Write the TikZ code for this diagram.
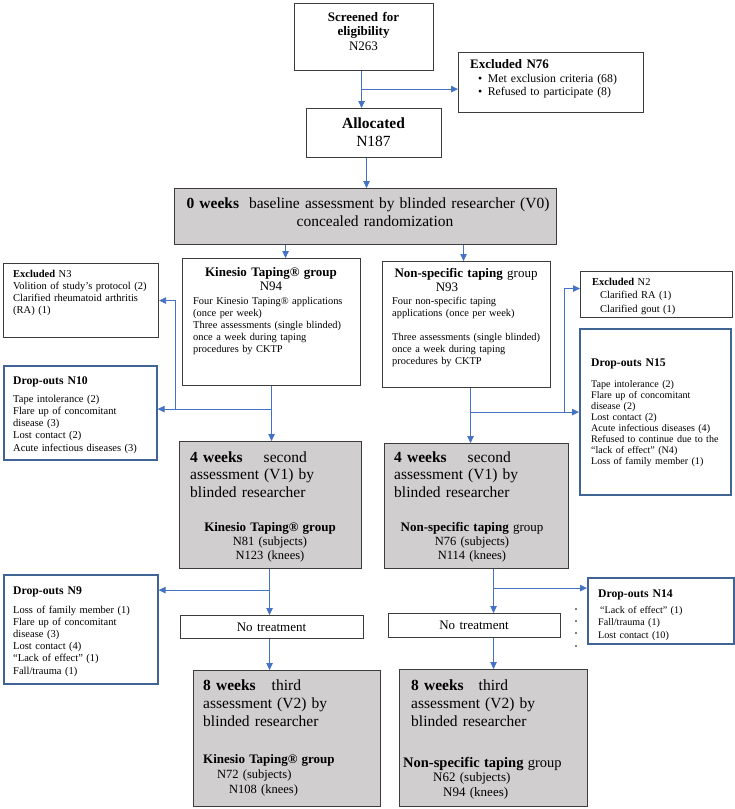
\documentclass[tikz,border=0pt]{standalone}
\usepackage{fontspec}
\setmainfont{Liberation Serif}
\usetikzlibrary{arrows.meta,calc}
\definecolor{ablue}{RGB}{68,114,196}
\definecolor{dblue}{RGB}{65,100,150}
\definecolor{bgray}{RGB}{208,206,206}
\definecolor{bline}{RGB}{60,60,60}
\newcommand\fsz[2]{\fontsize{#1}{#2}\selectfont}
\begin{document}
\begin{tikzpicture}[x=1pt,y=-1pt,
  bx/.style={draw=bline, line width=1.1pt, inner sep=0pt, anchor=north west},
  gbx/.style={bx, fill=bgray},
  dbx/.style={draw=dblue, line width=1.6pt, inner sep=0pt, anchor=north west},
  txl/.style={inner sep=0pt, anchor=base west, align=left, text width=#1},
  txc/.style={inner sep=0pt, anchor=base, align=center, text width=#1},
  ln/.style={draw=ablue, line width=0.8pt},
  arr/.style={ln, -{Triangle[length=7pt,width=6.5pt]}}
]
\useasboundingbox (0,0) rectangle (735,809);

% ---------- boxes ----------
\node[bx, minimum width=139pt, minimum height=67pt] (scr) at (294,3) {};
\node[bx, minimum width=185pt, minimum height=60pt] (ex1) at (458,52) {};
\node[bx, minimum width=135pt, minimum height=49pt] (alloc) at (306,108) {};
\node[gbx, minimum width=382pt, minimum height=56pt] (w0) at (174,188) {};
\node[bx, minimum width=178pt, minimum height=127pt] (kt) at (182,258) {};
\node[bx, minimum width=168pt, minimum height=126pt] (ns) at (382,261) {};
\node[bx, minimum width=155pt, minimum height=74pt] (ex3) at (3,263) {};
\node[dbx, minimum width=153pt, minimum height=94pt] (do10) at (3,365) {};
\node[bx, minimum width=152pt, minimum height=46pt] (ex2) at (580,271) {};
\node[dbx, minimum width=151pt, minimum height=166pt] (do15) at (579,328) {};
\node[gbx, minimum width=182pt, minimum height=127pt] (w4L) at (179,441) {};
\node[gbx, minimum width=184pt, minimum height=125pt] (w4R) at (384,443) {};
\node[dbx, minimum width=154pt, minimum height=109pt] (do9) at (3,574) {};
\node[bx, minimum width=183pt, minimum height=23pt] (ntL) at (180,615) {};
\node[bx, minimum width=172pt, minimum height=24pt] (ntR) at (388,613) {};
\node[dbx, minimum width=146pt, minimum height=66pt] (do14) at (587,577) {};
\node[gbx, minimum width=187pt, minimum height=136pt] (w8L) at (193,670) {};
\node[gbx, minimum width=188pt, minimum height=137pt] (w8R) at (399,669) {};

% ---------- texts ----------
\node[txc=130, font=\fsz{13}{14.5}] (scrT) at (363.5,21) {\textbf{Screened for}\\\textbf{eligibility}\\N263};
\node[txl=175, font=\fsz{13}{14}\bfseries] (ex1T) at (470,68) {Excluded N76};
\node[txl=170, font=\fsz{11.8}{13.5}] (ex1B) at (478,82) {•\hspace{5.5pt}Met exclusion criteria (68)\\•\hspace{5.5pt}Refused to participate (8)};
\node[txc=125, font=\fsz{15.5}{18.5}] (allocT) at (373.5,128) {\textbf{Allocated}\\N187};
\node[txc=400, font=\fsz{15.5}{18}] (w0T) at (368,208) {\textbf{0 weeks}\hspace{10pt}baseline assessment by blinded researcher (V0)\\\hspace*{14pt}concealed randomization};

\node[txc=170, font=\fsz{13}{14}] (ktT) at (271,276) {\textbf{Kinesio Taping® group}\\N94};
\node[txl=170, font=\fsz{10.4}{12}] (ktB) at (193,304) {Four Kinesio Taping® applications\\(once per week)\\Three assessments (single blinded)\\once a week during taping\\procedures by CKTP};

\node[txc=165, font=\fsz{13}{14}] (nsT) at (466,277) {\textbf{Non-specific taping} group\\\hspace*{-38pt}N93};
\node[txl=160, font=\fsz{10.4}{12}] (nsB) at (392,304) {Four non-specific taping\\applications (once per week)\\[12pt]Three assessments (single blinded)\\once a week during taping\\procedures by CKTP};

\node[txl=150, font=\fsz{10.5}{12}] (ex3T) at (13,277) {\textbf{Excluded} N3\\Volition of study’s protocol (2)\\Clarified rheumatoid arthritis\\(RA) (1)};

\node[txl=140, font=\fsz{11.7}{12}\bfseries] (do10T) at (13,384) {Drop-outs N10};
\node[txl=140, font=\fsz{10.5}{12.3}] (do10B) at (13,402) {Tape intolerance (2)\\Flare up of concomitant\\disease (3)\\Lost contact (2)\\Acute infectious diseases (3)};

\node[txl=140, font=\fsz{10.5}{13.5}] (ex2T) at (592,285) {\textbf{Excluded} N2\\\hspace*{8pt}Clarified RA (1)\\\hspace*{8pt}Clarified gout (1)};

\node[txl=140, font=\fsz{11.7}{12}\bfseries] (do15T) at (591,366) {Drop-outs N15};
\node[txl=140, font=\fsz{10.1}{11.1}] (do15B) at (591,387) {Tape intolerance (2)\\Flare up of concomitant\\disease (2)\\Lost contact (2)\\Acute infectious diseases (4)\\Refused to continue due to the\\“lack of effect” (N4)\\Loss of family member (1)};

\node[txl=175, font=\fsz{15.5}{17.5}] (w4LT) at (190,462) {\textbf{4 weeks}\hspace{21pt}second\\assessment (V1) by\\blinded researcher};
\node[txc=175, font=\fsz{12.5}{14}] (w4LB) at (270,531) {\textbf{\fontsize{13}{14}\selectfont Kinesio Taping® group}\\N81 (subjects)\\N123 (knees)};

\node[txl=175, font=\fsz{15.5}{17.5}] (w4RT) at (394,462) {\textbf{4 weeks}\hspace{21pt}second\\assessment (V1) by\\blinded researcher};
\node[txc=180, font=\fsz{12.5}{14}] (w4RB) at (472,531) {\textbf{\fontsize{13}{14}\selectfont Non-specific taping} {\fontsize{13}{14}\selectfont group}\\N76 (subjects)\\N114 (knees)};

\node[txl=140, font=\fsz{11.7}{12}\bfseries] (do9T) at (13,594) {Drop-outs N9};
\node[txl=140, font=\fsz{10.5}{12.2}] (do9B) at (13,613) {Loss of family member (1)\\Flare up of concomitant\\disease (3)\\Lost contact (4)\\“Lack of effect” (1)\\Fall/trauma (1)};

\node[txc=170, font=\fsz{13}{15}] (ntLT) at (271.5,631) {No treatment};
\node[txc=165, font=\fsz{13}{15}] (ntRT) at (474,629) {No treatment};

\node[txl=130, font=\fsz{11.7}{12}\bfseries] (do14T) at (598,597) {Drop-outs N14};
\node[txl=130, font=\fsz{10.1}{12.5}] (do14B) at (598,613) {\hspace*{2pt}“Lack of effect” (1)\\Fall/trauma (1)\\Lost contact (10)};

\node[txl=180, font=\fsz{15.5}{18}] (w8LT) at (203,690) {\textbf{8 weeks}\hspace{16pt}third\\assessment (V2) by\\blinded researcher};
\node[txl=180, font=\fsz{12.5}{15}] (w8LB) at (203,763) {\textbf{\fontsize{13}{15}\selectfont Kinesio Taping® group}\\\hspace*{14pt}N72 (subjects)\\\hspace*{26pt}N108 (knees)};

\node[txl=180, font=\fsz{15.5}{18}] (w8RT) at (411,690) {\textbf{8 weeks}\hspace{15pt}third\\assessment (V2) by\\blinded researcher};
\node[txl=185, font=\fsz{13}{14.5}] (w8RB) at (403,767) {\textbf{\fontsize{14.5}{14.5}\selectfont Non-specific taping} {\fontsize{14.5}{14.5}\selectfont group}\\\hspace*{30pt}N62 (subjects)\\\hspace*{40pt}N94 (knees)};

% ---------- connectors ----------
\draw[arr] ([xshift=-2.5pt]scr.south) -- ([xshift=-2.5pt]scr.south |- alloc.north);
\path ([xshift=-2.5pt]scr.south) ++(0,18) coordinate (b1);
\draw[arr] (b1) -- (b1 -| ex1.west);
\draw[arr] ([xshift=-7.5pt]alloc.south) -- ([xshift=-7.5pt]alloc.south |- w0.north);
\draw[arr] ([xshift=14pt]kt.north |- w0.south) -- ([xshift=14pt]kt.north);
\draw[arr] ([xshift=-3pt]ns.north |- w0.south) -- ([xshift=-3pt]ns.north);

\draw[arr] (kt.south) -- (kt.south |- w4L.north);
\path (kt.south) ++(0,23) coordinate (k1);
\draw[arr] (k1) -- (k1 -| do10.east);
\draw[arr] ([xshift=18pt]k1 -| do10.east) |- (ex3.east);

\draw[arr] ([xshift=4pt]ns.south) -- ([xshift=4pt]ns.south |- w4R.north);
\path ([xshift=4pt]ns.south) ++(0,24) coordinate (n1);
\draw[arr] (n1) -- (n1 -| do15.west);
\draw[arr] ([xshift=-15pt]n1 -| do15.west) |- ([yshift=6pt]ex2.west);

\draw[arr] ([xshift=-1pt]w4L.south) -- ([xshift=-1pt]w4L.south |- ntL.north);
\path ([xshift=-1pt]w4L.south) ++(0,21) coordinate (m1);
\draw[arr] (m1) -- (m1 -| do9.east);

\draw[arr] ([xshift=17pt]w4R.south) -- ([xshift=17pt]w4R.south |- ntR.north);
\path ([xshift=17pt]w4R.south) ++(0,19) coordinate (m2);
\draw[arr] (m2) -- (m2 -| do14.west);

\draw[arr] ([xshift=-2.5pt]ntL.south) -- ([xshift=-2.5pt]ntL.south |- w8L.north);
\draw[arr] ([xshift=19pt]ntR.south) -- ([xshift=19pt]ntR.south |- w8R.north);

\foreach \yy in {609,621,633,646} \fill (576,\yy) circle[radius=0.9];
\end{tikzpicture}
\end{document}
